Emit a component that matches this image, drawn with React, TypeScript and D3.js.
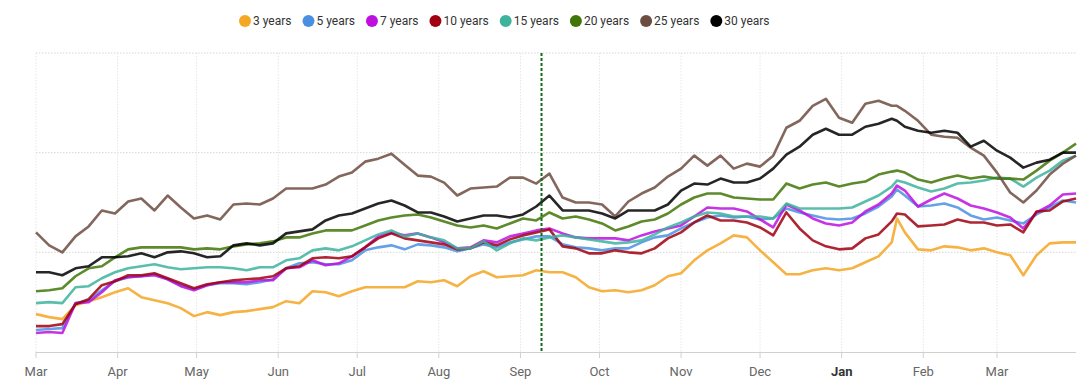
import { useEffect, useRef } from 'react';
import * as d3 from 'd3';

// sample dates (every 5 days, plus one extra point on the late-January spike)
const dates = [
  '2021-03-01', '2021-03-06', '2021-03-11', '2021-03-16', '2021-03-21', '2021-03-26', '2021-03-31',
  '2021-04-05', '2021-04-10', '2021-04-15', '2021-04-20', '2021-04-25', '2021-04-30',
  '2021-05-05', '2021-05-10', '2021-05-15', '2021-05-20', '2021-05-25', '2021-05-30',
  '2021-06-04', '2021-06-09', '2021-06-14', '2021-06-19', '2021-06-24', '2021-06-29',
  '2021-07-04', '2021-07-09', '2021-07-14', '2021-07-19', '2021-07-24', '2021-07-29',
  '2021-08-03', '2021-08-08', '2021-08-13', '2021-08-18', '2021-08-23', '2021-08-28',
  '2021-09-02', '2021-09-07', '2021-09-12', '2021-09-17', '2021-09-22', '2021-09-27',
  '2021-10-02', '2021-10-07', '2021-10-12', '2021-10-17', '2021-10-22', '2021-10-27',
  '2021-11-01', '2021-11-06', '2021-11-11', '2021-11-16', '2021-11-21', '2021-11-26',
  '2021-12-01', '2021-12-06', '2021-12-11', '2021-12-16', '2021-12-21', '2021-12-26', '2021-12-31',
  '2022-01-05', '2022-01-10', '2022-01-15', '2022-01-20', '2022-01-22', '2022-01-25', '2022-01-30',
  '2022-02-04', '2022-02-09', '2022-02-14', '2022-02-19', '2022-02-24',
  '2022-03-01', '2022-03-06', '2022-03-11', '2022-03-16', '2022-03-21', '2022-03-26', '2022-03-31',
];

const y3 = [
  0.38, 0.35, 0.33, 0.47, 0.51, 0.55, 0.60, 0.64, 0.55, 0.52,
  0.49, 0.44, 0.36, 0.40, 0.37, 0.40, 0.41, 0.43, 0.45, 0.51,
  0.49, 0.61, 0.60, 0.56, 0.61, 0.65, 0.65, 0.65, 0.65, 0.71,
  0.70, 0.72, 0.66, 0.76, 0.81, 0.75, 0.76, 0.77, 0.82, 0.80,
  0.80, 0.75, 0.65, 0.61, 0.62, 0.60, 0.62, 0.67, 0.76, 0.79,
  0.92, 1.02, 1.09, 1.17, 1.15, 1.02, 0.90, 0.78, 0.78, 0.82,
  0.84, 0.82, 0.84, 0.90, 0.96, 1.10, 1.34,
  1.20, 1.03, 1.02, 1.06, 1.05, 1.02, 1.04, 1.00, 0.97, 0.77, 0.97, 1.09, 1.10, 1.10,
];
const y5 = [
  0.22, 0.23, 0.24, 0.49, 0.52, 0.62, 0.71, 0.75, 0.76, 0.78,
  0.73, 0.67, 0.63, 0.67, 0.69, 0.69, 0.68, 0.70, 0.73, 0.84,
  0.89, 0.90, 0.88, 0.88, 0.92, 1.02, 1.05, 1.07, 1.03, 1.08,
  1.07, 1.05, 1.01, 1.04, 1.08, 1.05, 1.10, 1.13, 1.16, 1.16,
  1.08, 1.05, 1.04, 1.02, 1.04, 1.04, 1.10, 1.15, 1.17, 1.24,
  1.30, 1.35, 1.37, 1.35, 1.36, 1.33, 1.34, 1.44, 1.40, 1.37,
  1.34, 1.33, 1.34, 1.39, 1.46, 1.56, 1.63,
  1.57, 1.46, 1.47, 1.49, 1.45, 1.37, 1.33, 1.35, 1.32, 1.29, 1.38, 1.45, 1.52, 1.50,
];
const y7 = [
  0.19, 0.20, 0.19, 0.49, 0.50, 0.60, 0.72, 0.75, 0.76, 0.77,
  0.73, 0.66, 0.62, 0.67, 0.70, 0.70, 0.70, 0.72, 0.72, 0.84,
  0.85, 0.92, 0.87, 0.89, 0.96, 1.05, 1.16, 1.20, 1.17, 1.19,
  1.15, 1.10, 1.04, 1.05, 1.12, 1.10, 1.16, 1.19, 1.22, 1.24,
  1.19, 1.15, 1.14, 1.14, 1.14, 1.12, 1.17, 1.21, 1.24, 1.27,
  1.36, 1.45, 1.44, 1.44, 1.41, 1.33, 1.25, 1.48, 1.42, 1.34,
  1.29, 1.27, 1.30, 1.41, 1.48, 1.59, 1.67,
  1.62, 1.46, 1.53, 1.59, 1.54, 1.47, 1.44, 1.40, 1.35, 1.24, 1.40, 1.47, 1.58, 1.59,
];
const y10 = [
  0.26, 0.26, 0.28, 0.48, 0.53, 0.67, 0.71, 0.77, 0.77, 0.79,
  0.74, 0.69, 0.64, 0.68, 0.70, 0.72, 0.73, 0.74, 0.76, 0.84,
  0.86, 0.94, 0.95, 0.94, 0.96, 1.05, 1.14, 1.19, 1.14, 1.12,
  1.10, 1.08, 1.03, 1.04, 1.10, 1.07, 1.13, 1.17, 1.20, 1.23,
  1.06, 1.04, 0.99, 0.99, 1.02, 1.00, 0.99, 1.04, 1.14, 1.20,
  1.30, 1.37, 1.32, 1.32, 1.30, 1.25, 1.17, 1.40, 1.24, 1.12,
  1.06, 1.03, 1.04, 1.14, 1.18, 1.31, 1.39,
  1.38, 1.26, 1.27, 1.28, 1.33, 1.30, 1.30, 1.27, 1.28, 1.20, 1.41, 1.42, 1.51, 1.54,
];
const y15 = [
  0.49, 0.50, 0.49, 0.65, 0.66, 0.74, 0.80, 0.84, 0.86, 0.88,
  0.85, 0.83, 0.84, 0.85, 0.85, 0.84, 0.82, 0.85, 0.85, 0.92,
  0.94, 1.02, 1.04, 1.02, 1.06, 1.12, 1.18, 1.22, 1.16, 1.19,
  1.15, 1.12, 1.04, 1.04, 1.11, 1.02, 1.09, 1.14, 1.12, 1.15,
  1.17, 1.15, 1.13, 1.11, 1.09, 1.10, 1.12, 1.18, 1.25, 1.30,
  1.36, 1.40, 1.39, 1.36, 1.36, 1.36, 1.34, 1.49, 1.44, 1.44,
  1.44, 1.44, 1.45, 1.51, 1.57, 1.66, 1.72,
  1.70, 1.65, 1.61, 1.64, 1.69, 1.70, 1.72, 1.75, 1.74, 1.66, 1.75, 1.82, 1.92, 1.97,
];
const y20 = [
  0.61, 0.62, 0.64, 0.76, 0.84, 0.86, 0.95, 1.03, 1.05, 1.05,
  1.05, 1.05, 1.03, 1.04, 1.03, 1.06, 1.08, 1.09, 1.11, 1.15,
  1.15, 1.19, 1.22, 1.22, 1.22, 1.27, 1.32, 1.35, 1.37, 1.38,
  1.35, 1.31, 1.27, 1.25, 1.27, 1.24, 1.29, 1.34, 1.32, 1.40,
  1.34, 1.36, 1.33, 1.29, 1.22, 1.26, 1.31, 1.33, 1.39, 1.48,
  1.55, 1.59, 1.59, 1.55, 1.54, 1.53, 1.53, 1.69, 1.64, 1.68,
  1.70, 1.66, 1.69, 1.71, 1.78, 1.81, 1.82,
  1.80, 1.73, 1.70, 1.74, 1.77, 1.74, 1.76, 1.74, 1.74, 1.73, 1.82, 1.92, 2.00, 2.09,
];
const y25 = [
  1.20, 1.07, 1.00, 1.16, 1.26, 1.42, 1.39, 1.51, 1.54, 1.42,
  1.57, 1.45, 1.34, 1.37, 1.33, 1.48, 1.49, 1.48, 1.54, 1.64,
  1.64, 1.64, 1.68, 1.76, 1.80, 1.91, 1.94, 1.99, 1.88, 1.77,
  1.76, 1.70, 1.57, 1.64, 1.65, 1.66, 1.75, 1.75, 1.69, 1.79,
  1.55, 1.50, 1.50, 1.48, 1.36, 1.51, 1.59, 1.65, 1.76, 1.84,
  1.97, 1.87, 1.97, 1.84, 1.89, 1.86, 1.97, 2.25, 2.32, 2.47,
  2.54, 2.35, 2.30, 2.49, 2.52, 2.47, 2.47,
  2.42, 2.32, 2.18, 2.16, 2.15, 2.05, 1.97, 1.80, 1.60, 1.50, 1.62, 1.78, 1.89, 1.97,
];
const y30 = [
  0.80, 0.80, 0.77, 0.84, 0.86, 0.95, 0.95, 0.96, 0.99, 0.95,
  1.00, 1.01, 0.99, 0.95, 0.96, 1.07, 1.09, 1.07, 1.09, 1.19,
  1.21, 1.23, 1.32, 1.37, 1.39, 1.44, 1.49, 1.52, 1.47, 1.40,
  1.40, 1.36, 1.31, 1.34, 1.37, 1.37, 1.35, 1.38, 1.46, 1.57,
  1.42, 1.42, 1.42, 1.39, 1.34, 1.42, 1.42, 1.42, 1.48, 1.62,
  1.69, 1.68, 1.74, 1.70, 1.70, 1.74, 1.84, 1.98, 2.06, 2.18,
  2.24, 2.18, 2.18, 2.26, 2.29, 2.34, 2.32,
  2.26, 2.22, 2.20, 2.22, 2.20, 2.06, 2.12, 2.02, 1.95, 1.85, 1.90, 1.93, 2.00, 2.00,
];

const seriesNames = ['3 years', '5 years', '7 years', '10 years', '15 years', '20 years', '25 years', '30 years'];
const seriesValues = [y3, y5, y7, y10, y15, y20, y25, y30];
const seriesColors = ['#F5A623', '#4A90E2', '#BD10E0', '#A0000F', '#3DB39E', '#417505', '#6D4C41', '#000000'];

const yTicks = [0, 1, 2, 3];
const markerDate = '2021-09-09';
const xStart = '2021-03-01';
const xEnd = '2022-03-31';

const W = 1092;
const H = 390;

export default function App() {
  const svgRef = useRef<SVGSVGElement>(null);

  useEffect(() => {
    const svg = d3.select(svgRef.current);
    svg.selectAll('*').remove();

    const parse = d3.timeParse('%Y-%m-%d');
    const parsedDates = dates.map((d) => parse(d) as Date);

    const x = d3.scaleTime()
      .domain([parse(xStart) as Date, parse(xEnd) as Date])
      .range([36, 1076]);
    const y = d3.scaleLinear().domain([0, 3]).range([352, 53]);

    const font = 'Roboto, Arial, sans-serif';

    // horizontal grid
    svg.append('g')
      .selectAll('line')
      .data(yTicks.filter((t) => t > 0))
      .enter().append('line')
      .attr('x1', 36).attr('x2', 1076)
      .attr('y1', (d) => y(d)).attr('y2', (d) => y(d))
      .attr('stroke', '#d6d6d6')
      .attr('stroke-dasharray', '1.5,1.5');

    // vertical grid + ticks
    const months = d3.timeMonth.range(parse(xStart) as Date, parse(xEnd) as Date);
    svg.append('g')
      .selectAll('line')
      .data(months)
      .enter().append('line')
      .attr('x1', (d) => x(d)).attr('x2', (d) => x(d))
      .attr('y1', y(3)).attr('y2', y(0))
      .attr('stroke', '#e6e6e6')
      .attr('stroke-dasharray', '1.5,1.5');

    svg.append('line')
      .attr('x1', 36).attr('x2', 1076)
      .attr('y1', y(0) + 0.5).attr('y2', y(0) + 0.5)
      .attr('stroke', '#d0d0d0');

    svg.append('g')
      .selectAll('line')
      .data(months)
      .enter().append('line')
      .attr('x1', (d) => x(d)).attr('x2', (d) => x(d))
      .attr('y1', y(0)).attr('y2', y(0) + 6)
      .attr('stroke', '#d0d0d0');

    const fmt = d3.timeFormat('%b');
    svg.append('g')
      .selectAll('text')
      .data(months)
      .enter().append('text')
      .attr('x', (d) => x(d))
      .attr('y', 376)
      .attr('text-anchor', 'middle')
      .style('font-family', font)
      .style('font-size', '13px')
      .style('font-weight', (d) => (d.getMonth() === 0 ? '700' : '400'))
      .style('fill', (d) => (d.getMonth() === 0 ? '#333' : '#666'))
      .text((d) => fmt(d));

    // series lines
    const line = d3.line<number>()
      .x((_, i) => x(parsedDates[i]))
      .y((d) => y(d));

    svg.append('g')
      .selectAll('path')
      .data(seriesValues)
      .enter().append('path')
      .attr('d', (d) => line(d))
      .attr('fill', 'none')
      .attr('stroke', (_, i) => seriesColors[i])
      .attr('stroke-opacity', 0.85)
      .attr('stroke-width', 2.6)
      .attr('stroke-linejoin', 'round');

    // marker line
    const mx = x(parse(markerDate) as Date);
    svg.append('line')
      .attr('x1', mx).attr('x2', mx)
      .attr('y1', y(3)).attr('y2', y(0))
      .attr('stroke', '#0f6b14')
      .attr('stroke-width', 2)
      .attr('stroke-dasharray', '3,2');

    // legend
    const legend = svg.append('g');
    let cursor = 239;
    seriesNames.forEach((name, i) => {
      legend.append('circle')
        .attr('cx', cursor + 6)
        .attr('cy', 21)
        .attr('r', 6)
        .attr('fill', seriesColors[i]);
      const t = legend.append('text')
        .attr('x', cursor + 14)
        .attr('y', 25)
        .style('font-family', font)
        .style('font-size', '12px')
        .style('fill', '#333')
        .text(name);
      const w = (t.node() as SVGTextElement).getComputedTextLength();
      cursor += 14 + w + 11;
    });
  }, []);

  return (
    <div style={{ position: 'absolute', left: 0, top: 0 }}>
      <svg ref={svgRef} width={W} height={H}></svg>
    </div>
  );
}
